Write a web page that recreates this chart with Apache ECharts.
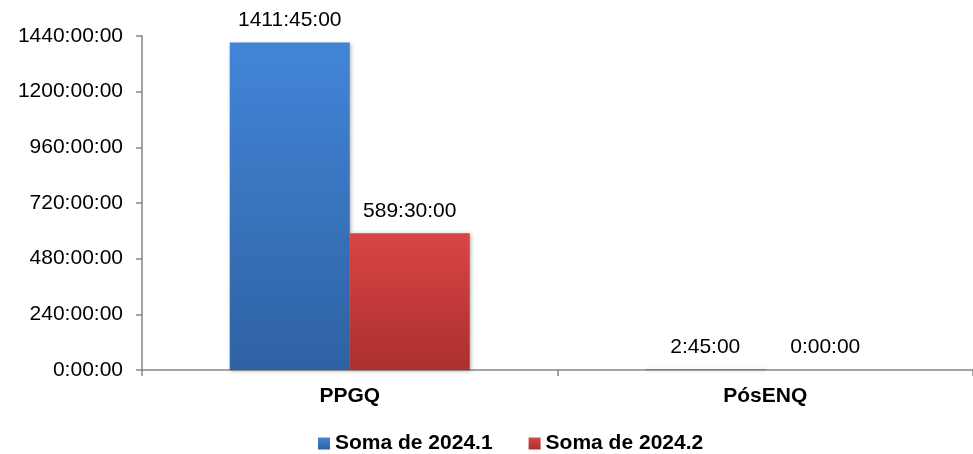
<!DOCTYPE html>
<html>
<head>
<meta charset="utf-8">
<script src="https://cdn.jsdelivr.net/npm/echarts@6/dist/echarts.min.js"></script>
<style>
html,body{margin:0;padding:0;background:#fff;}
#chart{width:973px;height:454px;}
</style>
</head>
<body>
<div id="chart"></div>
<script>
// Data (values in hours)
const categories = ['PPGQ', 'PósENQ'];
const seriesNames = ['Soma de 2024.1', 'Soma de 2024.2'];
const soma20241 = [1411.75, 2.75];
const soma20242 = [589.5, 0];
const yTicks = [0, 240, 480, 720, 960, 1200, 1440];

function fmt(h) {
  const totalSec = Math.round(h * 3600);
  const hh = Math.floor(totalSec / 3600);
  const mm = Math.floor((totalSec % 3600) / 60);
  const ss = totalSec % 60;
  return hh + ':' + String(mm).padStart(2, '0') + ':' + String(ss).padStart(2, '0');
}

const font = '"Liberation Sans", Arial, sans-serif';
const FS = 21;
const chart = echarts.init(document.getElementById('chart'), null, {renderer: 'canvas'});

function grad(top, bottom) {
  return new echarts.graphic.LinearGradient(0, 0, 0, 1, [
    {offset: 0, color: top}, {offset: 1, color: bottom}
  ]);
}

const labelCfg = {
  show: true, position: 'top', distance: 12,
  color: '#000', fontFamily: font, fontSize: FS,
  formatter: p => fmt(p.value)
};

chart.setOption({
  animation: false,
  textStyle: {fontFamily: font},
  grid: {left: 142, top: 36, width: 843, height: 334},
  legend: {
    data: seriesNames,
    left: 313, top: 428,
    itemWidth: 12, itemHeight: 12, itemGap: 36,
    icon: 'rect',
    textStyle: {fontFamily: font, fontSize: FS, fontWeight: 'bold', color: '#000'}
  },
  xAxis: {
    type: 'category',
    data: categories,
    axisLine: {lineStyle: {color: '#868686', width: 1.5}},
    axisTick: {show: true, length: 6, lineStyle: {color: '#868686', width: 1.5}},
    axisLabel: {color: '#000', fontFamily: font, fontSize: FS, fontWeight: 'bold', margin: 16}
  },
  yAxis: {
    type: 'value',
    min: yTicks[0], max: yTicks[yTicks.length - 1], interval: 240,
    splitLine: {show: false},
    axisLine: {show: true, lineStyle: {color: '#868686', width: 1.5}},
    axisTick: {show: true, length: 6, lineStyle: {color: '#868686', width: 1.5}},
    axisLabel: {color: '#000', fontFamily: font, fontSize: FS, margin: 19, formatter: v => fmt(v)}
  },
  series: [
    {
      name: seriesNames[0], type: 'bar', data: soma20241,
      barWidth: 120, barGap: '0%',
      itemStyle: {
        color: grad('#4285d8', '#2f62a3'),
        borderWidth: 0,
        shadowBlur: 4, shadowColor: 'rgba(0,0,0,0.3)', shadowOffsetX: 1, shadowOffsetY: 1
      },
      label: labelCfg
    },
    {
      name: seriesNames[1], type: 'bar', data: soma20242,
      barWidth: 120, barGap: '0%',
      itemStyle: {
        color: grad('#d94545', '#ad2f2f'),
        borderWidth: 0,
        shadowBlur: 4, shadowColor: 'rgba(0,0,0,0.3)', shadowOffsetX: 1, shadowOffsetY: 1
      },
      label: labelCfg
    }
  ]
});
</script>
</body>
</html>
